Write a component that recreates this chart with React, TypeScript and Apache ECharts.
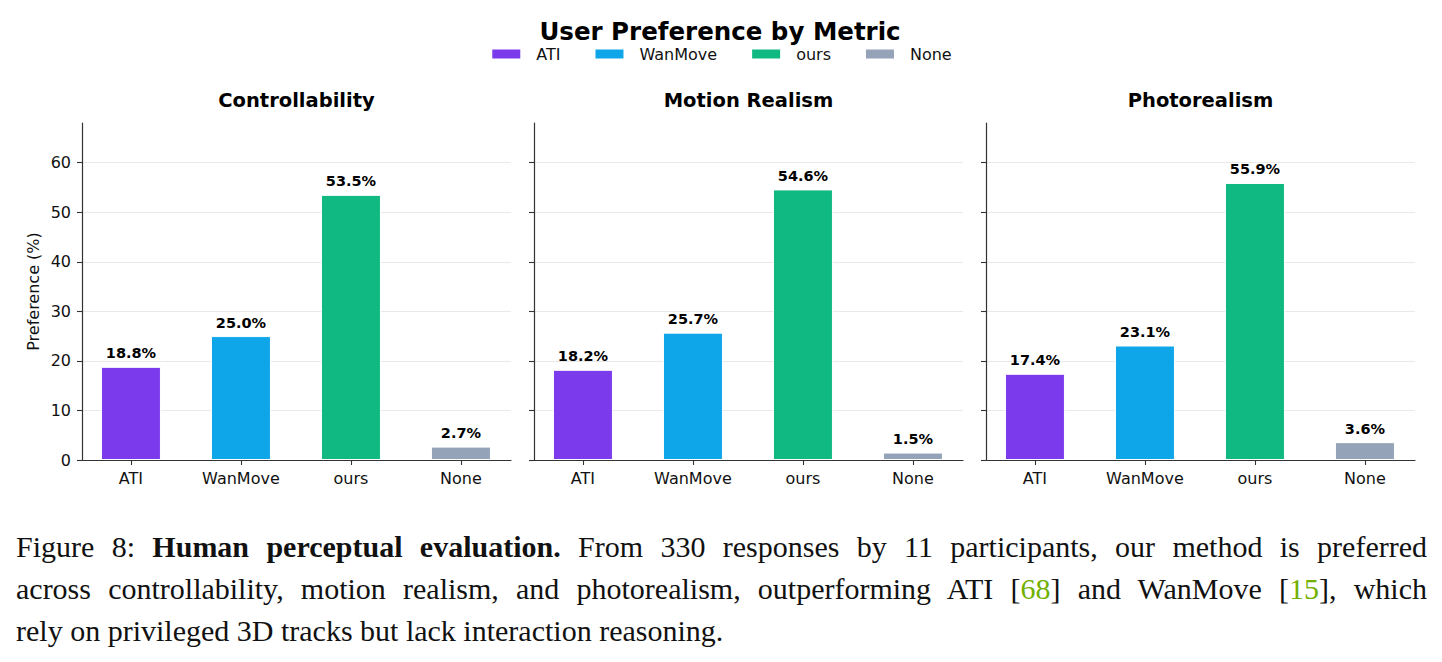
import React, { useEffect, useRef } from "react";
import * as echarts from "echarts";

const categories = ["ATI", "WanMove", "ours", "None"];
const metrics = ["Controllability", "Motion Realism", "Photorealism"];
const controllability = [18.8, 25.0, 53.5, 2.7];
const motionRealism = [18.2, 25.7, 54.6, 1.5];
const photorealism = [17.4, 23.1, 55.9, 3.6];
const yTicks = [0, 10, 20, 30, 40, 50, 60];
const colors = ["#7c3aed", "#0ea5e9", "#10b981", "#94a3b8"];

const panelValues = [controllability, motionRealism, photorealism];
const FONT = "DejaVu Sans";
const gridLefts = [82, 534, 986];
const gridWidth = 429;
const gridTop = 123;
const gridHeight = 337;

export default function App() {
  const ref = useRef<HTMLDivElement>(null);

  useEffect(() => {
    if (!ref.current) return;
    const chart = echarts.init(ref.current, null, { renderer: "svg" });

    const grids = gridLefts.map((l) => ({ left: l, top: gridTop, width: gridWidth, height: gridHeight }));
    const xAxes = gridLefts.map((_, i) => ({
      type: "value",
      gridIndex: i,
      min: -0.445,
      max: 3.455,
      axisLine: { show: true, onZero: false, lineStyle: { color: "#333", width: 1.2 } },
      axisTick: { show: true, customValues: [0, 1, 2, 3], length: 5, lineStyle: { color: "#333", width: 1.1 } },
      axisLabel: {
        customValues: [0, 1, 2, 3],
        formatter: (v: number) => categories[Math.round(v)] ?? "",
        fontFamily: FONT,
        fontSize: 16,
        color: "#111",
        margin: 10,
      },
      splitLine: { show: false },
    }));
    const yAxes = gridLefts.map((_, i) => ({
      type: "value",
      gridIndex: i,
      min: 0,
      max: 68,
      interval: 10,
      name: i === 0 ? "Preference (%)" : "",
      nameLocation: "middle",
      nameGap: 41,
      nameTextStyle: { fontFamily: FONT, fontSize: 16, color: "#111" },
      axisLine: { show: true, onZero: false, lineStyle: { color: "#333", width: 1.2 } },
      axisTick: { show: true, customValues: yTicks, length: 5, lineStyle: { color: "#333", width: 1.1 } },
      axisLabel: {
        show: i === 0,
        customValues: yTicks,
        fontFamily: FONT,
        fontSize: 16,
        color: "#111",
        margin: 11,
      },
      splitLine: { show: true, lineStyle: { color: "#e9e9e9", width: 1 } },
    }));

    const series: any[] = [];
    panelValues.forEach((vals, p) => {
      categories.forEach((cat, c) => {
        series.push({
          type: "bar",
          name: cat,
          xAxisIndex: p,
          yAxisIndex: p,
          stack: "panel" + p,
          barWidth: 60,
          data: [[c, vals[c]]],
          itemStyle: { color: colors[c], borderColor: "#ffffff", borderWidth: 1 },
          label: {
            show: true,
            position: "top",
            distance: 6,
            fontFamily: FONT,
            fontWeight: "bold",
            fontSize: 14.5,
            color: "#000",
            formatter: (params: any) => Number(params.value[1]).toFixed(1) + "%",
          },
        });
      });
    });

    const graphics: any[] = [
      {
        type: "text",
        x: 720,
        y: 31.5,
        style: {
          text: "User Preference by Metric",
          font: `bold 24.5px "${FONT}"`,
          lineHeight: 20,
          fill: "#000",
          textAlign: "center",
          textVerticalAlign: "middle",
        },
      },
      ...metrics.map((m, i) => ({
        type: "text",
        x: gridLefts[i] + gridWidth / 2,
        y: 100,
        style: {
          text: m,
          font: `bold 19.5px "${FONT}"`,
          fill: "#000",
          textAlign: "center",
          textVerticalAlign: "middle",
        },
      })),
    ];

    chart.setOption({
      animation: false,
      backgroundColor: "#ffffff",
      legend: {
        data: categories,
        top: 41,
        left: "center",
        icon: "rect",
        itemWidth: 30,
        itemHeight: 11,
        itemGap: 33,
        selectedMode: false,
        textStyle: { fontFamily: FONT, fontSize: 16, lineHeight: 16, color: "#111", padding: [0, 0, 0, 10] },
      },
      grid: grids,
      xAxis: xAxes,
      yAxis: yAxes,
      series,
      graphic: graphics,
    });

    return () => chart.dispose();
  }, []);

  const lineStyle: React.CSSProperties = {
    textAlign: "justify",
    textAlignLast: "justify",
    height: 42,
    lineHeight: "42px",
  };
  const cite: React.CSSProperties = { color: "#72b000" };

  return (
    <div style={{ position: "fixed", left: 0, top: 0, width: 1442, height: 662, background: "#fff" }}>
      <div ref={ref} style={{ position: "absolute", left: 0, top: 0, width: 1442, height: 510 }} />
      <div
        style={{
          position: "absolute",
          left: 16,
          top: 526,
          width: 1411,
          fontFamily: '"Liberation Serif", serif',
          fontSize: 30,
          color: "#111",
        }}
      >
        <div style={lineStyle}>
          Figure 8: <b>Human perceptual evaluation.</b> From 330 responses by 11 participants, our method is preferred
        </div>
        <div style={lineStyle}>
          across controllability, motion realism, and photorealism, outperforming ATI [<span style={cite}>68</span>] and
          WanMove [<span style={cite}>15</span>], which
        </div>
        <div style={{ height: 42, lineHeight: "42px", textAlign: "left" }}>
          rely on privileged 3D tracks but lack interaction reasoning.
        </div>
      </div>
    </div>
  );
}
